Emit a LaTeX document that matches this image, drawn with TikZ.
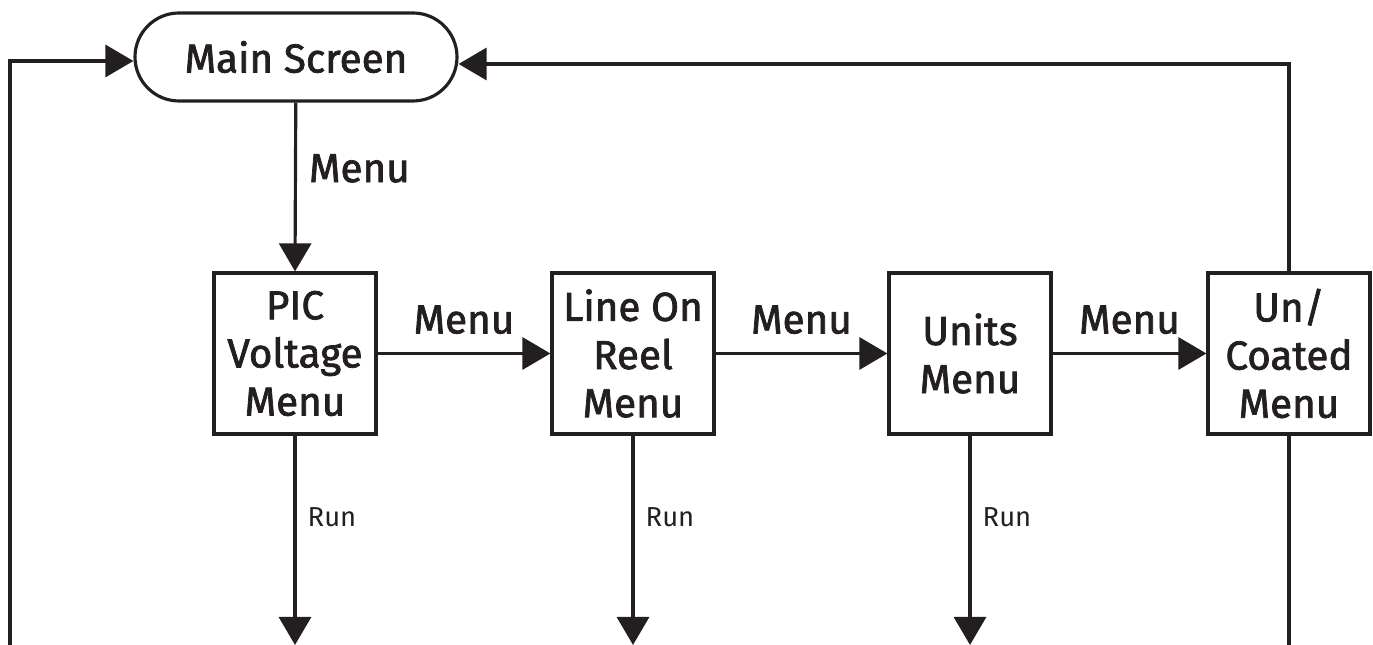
\documentclass[tikz,border=0pt]{standalone}
\usepackage{fontspec}
\setmainfont{Fira Sans}
\newfontfamily\medfont{Fira Sans}[FakeBold=1.8]
\usetikzlibrary{arrows.meta}
\definecolor{ink}{HTML}{231F20}
\begin{document}
\begin{tikzpicture}[
  every node/.style={text=ink},
  line/.style={draw=ink, line width=0.9pt},
  arr/.style={line, -{Triangle[length=0.28cm,width=0.32cm]}},
  menubox/.style={line, minimum width=1.62cm, minimum height=1.61cm, inner sep=0pt, align=center,
    font=\fontsize{11.5}{13.7}\medfont},
  term/.style={line, rounded corners=0.44cm, minimum width=3.22cm, minimum height=0.88cm, inner sep=0pt,
    font=\fontsize{11.5}{13.7}\medfont},
  biglab/.style={font=\fontsize{11.5}{13.7}\medfont, inner sep=0pt},
  smalllab/.style={font=\fontsize{7.8}{9}\selectfont, inner sep=0pt}
]
\useasboundingbox (0,0) rectangle (13.73,-6.45);
\node[term] (main) at (2.96,-0.57) {Main Screen};
\node[menubox] (pic) at (2.95,-3.535) {PIC\\Voltage\\Menu};
\node[menubox] (reel) at (6.33,-3.535) {Line On\\Reel\\Menu};
\node[menubox] (units) at (9.70,-3.535) {Units\\Menu};
\node[menubox] (uc) at (12.89,-3.535) {Un/\\Coated\\Menu};

\coordinate (Lb) at (0.10,-6.45);
\coordinate (pb) at (2.95,-6.45);
\coordinate (rb) at (6.33,-6.45);
\coordinate (ub) at (9.70,-6.45);
\coordinate (cb) at (12.89,-6.45);

\draw[arr] (main) -- (pic.north) node[biglab, pos=0.39, anchor=west, xshift=0.12cm] (m0) {Menu};
\draw[arr] (pic) -- (reel) node[biglab, midway, above=0.18cm] (m1) {Menu};
\draw[arr] (reel) -- (units) node[biglab, midway, above=0.18cm] (m2) {Menu};
\draw[arr] (units) -- (uc) node[biglab, midway, above=0.18cm] (m3) {Menu};

\draw[arr] (Lb) |- ([yshift=-0.04cm]main.west);
\draw[arr] (uc.north) |- ([yshift=-0.07cm]main.east);
\draw[line] (uc.south) -- (cb);

\draw[arr] (pic.south) -- (pb);
\draw[arr] (reel.south) -- (rb);
\draw[arr] (units.south) -- (ub);
\node[smalllab, anchor=west] (r1) at (3.07,-5.17) {Run};
\node[smalllab, anchor=west] (r2) at (6.45,-5.17) {Run};
\node[smalllab, anchor=west] (r3) at (9.82,-5.17) {Run};
\end{tikzpicture}
\end{document}
